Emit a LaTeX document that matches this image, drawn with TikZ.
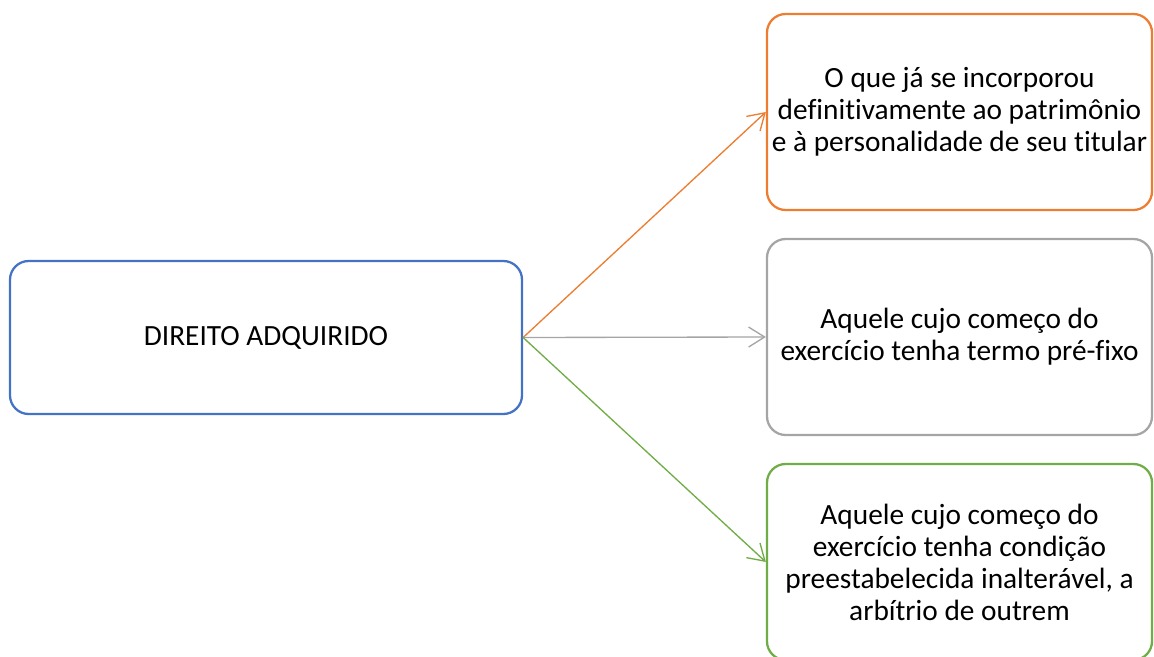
\documentclass[tikz,border=0pt]{standalone}
\usepackage{fontspec}
\setmainfont{Carlito}[Ligatures=NoCommon]
\usetikzlibrary{arrows.meta}
\definecolor{boxblue}{HTML}{4472C4}
\definecolor{boxorange}{HTML}{ED7D31}
\definecolor{boxgray}{HTML}{A5A5A5}
\definecolor{boxgreen}{HTML}{70AD47}
\begin{document}
\begin{tikzpicture}[x=0.75pt,y=-0.75pt,
  box/.style={draw, line width=1.7pt, rounded corners=14pt, align=center,
    inner sep=0pt, font=\fontsize{22}{24}\selectfont},
  leftbox/.style={box, minimum width=384pt, minimum height=114.75pt},
  rightbox/.style={box, minimum width=288.75pt, minimum height=147pt},
  link/.style={line width=1pt, -{Straight Barb[length=12pt,width=15pt]}}]
  \useasboundingbox (0,0) rectangle (1154,657);
  \node[leftbox, draw=boxblue] (direito) at (266,337.5) {DIREITO ADQUIRIDO};
  \node[rightbox, draw=boxorange] (patrimonio) at (959.5,112)
    {O que já se incorporou\\definitivamente ao patrimônio\\e à personalidade de seu titular};
  \node[rightbox, draw=boxgray] (termo) at (959.5,337)
    {Aquele cujo começo do\\exercício tenha termo pré-fixo};
  \node[rightbox, draw=boxgreen] (condicao) at (959.5,562)
    {Aquele cujo começo do\\exercício tenha condição\\preestabelecida inalterável, a\\arbítrio de outrem};
  \draw[link, boxorange] (direito.east) -- (patrimonio.west);
  \draw[link, boxgray] (direito.east) -- (termo.west);
  \draw[link, boxgreen] (direito.east) -- (condicao.west);
\end{tikzpicture}
\end{document}
